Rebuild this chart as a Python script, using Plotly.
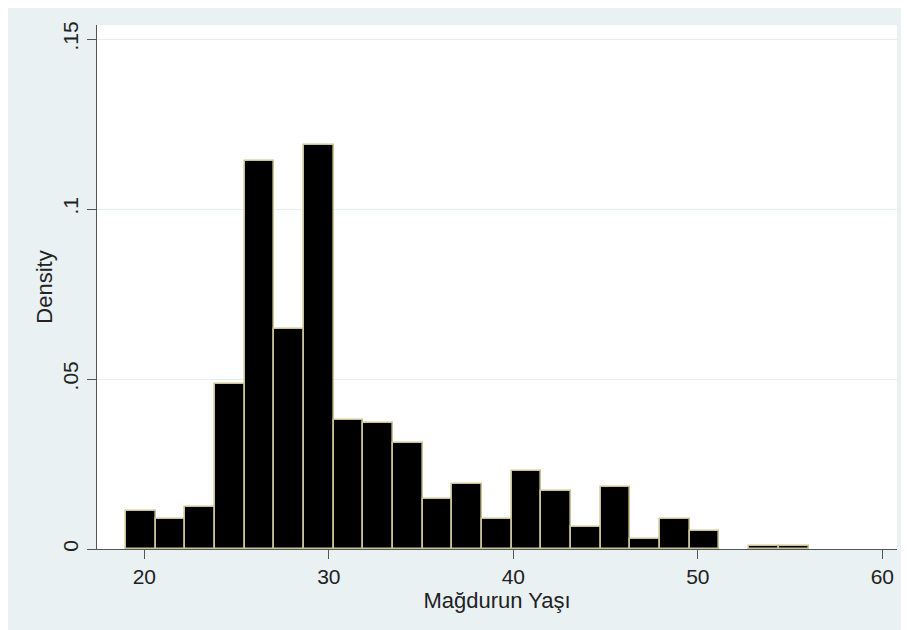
import plotly.graph_objects as go

# ---- data ----
age_min = 19.0
age_max = 56.0
n_bins = 23
density = [0.0113, 0.0087, 0.0125, 0.0486, 0.1141, 0.0648, 0.1188, 0.0379,
           0.0370, 0.0311, 0.0148, 0.0192, 0.0089, 0.0229, 0.0170, 0.0066,
           0.0181, 0.0029, 0.0088, 0.0054, 0.0, 0.0009, 0.0009]
x_ticks = [20, 30, 40, 50, 60]
y_ticks = [0, 0.05, 0.10, 0.15]
y_ticklabels = ["0", ".05", ".1", ".15"]
x_title = "Mağdurun Yaşı"
y_title = "Density"

bin_width = (age_max - age_min) / n_bins
centers = [age_min + bin_width * (i + 0.5) for i in range(n_bins)]
outline_w = [1.6 if d > 0 else 0 for d in density]

BG = "#e9f1f3"
FONT = dict(family="Liberation Sans, Arial, sans-serif", size=21, color="#222222")
TITLE_FONT = dict(family="Liberation Sans, Arial, sans-serif", size=22, color="#222222")

fig = go.Figure(go.Bar(
    x=centers, y=density, width=bin_width,
    marker=dict(color="black", line=dict(color="#cbc398", width=outline_w)),
    hoverinfo="x+y",
))

# the page body adds an 8px white margin at top/left
W, H = 901, 622
ml, mr, mt, mb = 89, 12, 17, 81
fig.update_layout(
    width=W, height=H,
    margin=dict(l=ml, r=mr, t=mt, b=mb, autoexpand=False),
    paper_bgcolor=BG, plot_bgcolor="white",
    font=FONT, showlegend=False, bargap=0,
    xaxis=dict(
        range=[17.436, 60.797], tickvals=x_ticks, ticks="outside", ticklen=9,
        tickcolor="#555555", tickwidth=1.2, showline=True, linecolor="#555555",
        linewidth=1.3, showgrid=False, zeroline=False, fixedrange=True,
        title=dict(text=x_title, standoff=0, font=TITLE_FONT), automargin=False,
    ),
    yaxis=dict(
        range=[0, 0.15412], tickvals=y_ticks, ticktext=y_ticklabels,
        tickangle=-90, ticks="outside", ticklen=9, tickcolor="#555555",
        tickwidth=1.2, showline=True, linecolor="#555555", linewidth=1.3,
        showgrid=True, gridcolor="#e6eef0", gridwidth=1, zeroline=False,
        fixedrange=True, title=dict(text=y_title, standoff=0, font=TITLE_FONT),
        automargin=False,
    ),
)

fig.write_html("out.html")
